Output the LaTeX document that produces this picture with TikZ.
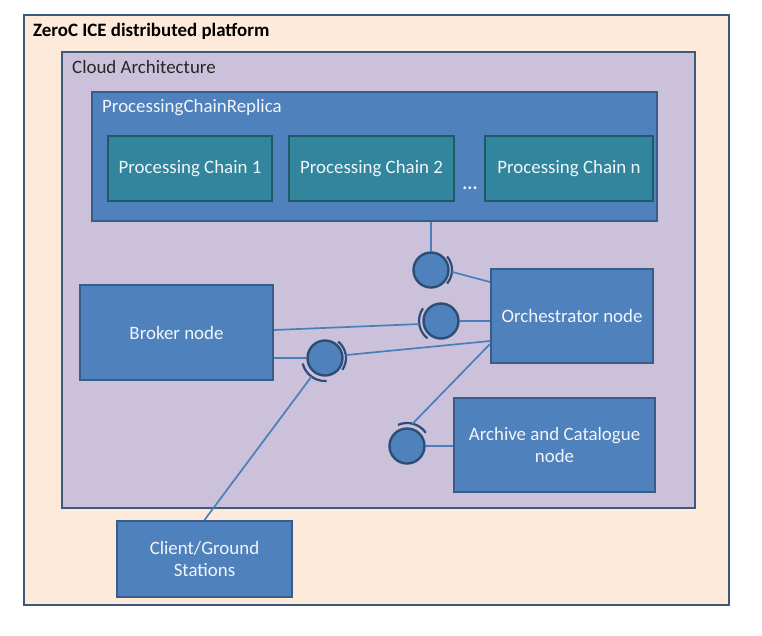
\documentclass[tikz,border=0pt]{standalone}
\usepackage{fontspec}
\setmainfont{Carlito}
\definecolor{peach}{HTML}{FDEADA}
\definecolor{lav}{HTML}{CCC1DA}
\definecolor{nblue}{HTML}{4F81BD}
\definecolor{nborder}{HTML}{385D8A}
\definecolor{outerb}{HTML}{3C5A7E}
\definecolor{teal}{HTML}{31859C}
\definecolor{tealb}{HTML}{215968}
\definecolor{lnc}{HTML}{4A7EBB}
\definecolor{sockc}{HTML}{2C4D75}
\definecolor{ltxt}{HTML}{F2F5FA}
\begin{document}
\begin{tikzpicture}[x=1pt,y=1pt,
  every node/.style={font=\fontsize{18.9}{22.6}\selectfont},
  container/.style={draw=outerb, line width=2.5pt, inner sep=0pt},
  nodebox/.style={draw=nborder, fill=nblue, line width=2pt, text=ltxt, align=center, inner sep=0pt},
  chainbox/.style={draw=tealb, fill=teal, line width=2pt, text=ltxt, align=center, inner sep=0pt},
  ball/.style={circle, draw=sockc, fill=nblue, line width=2.4pt, minimum size=35pt, inner sep=0pt},
  socket/.style={draw=sockc, line width=2.2pt},
  conn/.style={draw=lnc, line width=1.7pt},
  lbl/.style={anchor=base west, inner sep=0pt}
]
\useasboundingbox (0,0) rectangle (762,-635);
\fill[white] (0,0) rectangle (762,-635);
% containers
\node[container, fill=peach, minimum width=705pt, minimum height=590pt] (outer) at (376.5,-310) {};
\node[lbl, font=\fontsize{18.9}{22.6}\selectfont\bfseries] (title) at (33,-36) {ZeroC ICE distributed platform};
\node[container, fill=lav, line width=2pt, minimum width=633pt, minimum height=456pt] (cloud) at (378.5,-280) {};
\node[lbl, text=black!85] (cloudlbl) at (72,-73) {Cloud Architecture};
\node[nodebox, minimum width=565pt, minimum height=129pt] (pcr) at (374.5,-156.5) {};
\node[lbl, text=ltxt] (pcrlbl) at (102,-112) {ProcessingChainReplica};
% chains
\node[chainbox, minimum width=164pt, minimum height=65pt] (pc1) at (190,-168.5) {Processing Chain 1};
\node[chainbox, minimum width=165pt, minimum height=65pt] (pc2) at (371.5,-168.5) {Processing Chain 2};
\node[chainbox, minimum width=168pt, minimum height=65pt] (pcn) at (569,-168.5) {Processing Chain n};
\node[anchor=base, text=ltxt, inner sep=0pt, font=\fontsize{18.9}{22.6}\selectfont\bfseries] (dots) at (470,-189) {...};
% balls
\node[ball] (b1) at (431,-270) {};
\node[ball] (b2) at (441,-321) {};
\node[ball] (b3) at (325,-358) {};
\node[ball] (b4) at (407,-446) {};
% main boxes
\node[nodebox, minimum width=193pt, minimum height=95pt] (broker) at (176.5,-332.5) {Broker node};
\node[nodebox, minimum width=162pt, minimum height=94pt] (orch) at (572,-316) {Orchestrator node};
\node[nodebox, minimum width=201pt, minimum height=94pt] (arch) at (554.5,-445) {Archive and Catalogue\\node};
\node[nodebox, minimum width=175pt, minimum height=76pt] (client) at (204.5,-559) {Client/Ground\\Stations};
% sockets
\draw[socket] (b1.center) ++(-40:21pt) arc[start angle=-40, end angle=40, radius=21pt];
\path (b1.center) ++(-5:21pt) coordinate (s1);
\draw[socket] (b2.center) ++(145:22pt) arc[start angle=145, end angle=232, radius=22pt];
\path (b2.center) ++(188:22pt) coordinate (s2);
\draw[socket] (b3.center) ++(-34:21pt) arc[start angle=-34, end angle=51, radius=21pt];
\path (b3.center) ++(8:21pt) coordinate (s3a);
\draw[socket] (b3.center) ++(194:23pt) arc[start angle=194, end angle=274, radius=23pt];
\path (b3.center) ++(234:23pt) coordinate (s3b);
\draw[socket] (b4.center) ++(35:23pt) arc[start angle=35, end angle=113, radius=23pt];
\path (b4.center) ++(76:23pt) coordinate (s4);
% anchor points on boxes
\coordinate (o1) at ([yshift=-14pt]orch.north west);
\coordinate (o3) at ([yshift=-73pt]orch.north west);
\coordinate (o4) at ([yshift=-76pt]orch.north west);
\coordinate (br1) at ([yshift=-46pt]broker.north east);
% connectors
\draw[conn] (b1) -- (b1 |- pcr.south);
\draw[conn] (s1) -- (o1);
\draw[conn] (b2) -- (b2 -| orch.west);
\draw[conn] (br1) -- (s2);
\draw[conn] (b3) -- (b3 -| broker.east);
\draw[conn] (s3a) -- (o3);
\draw[conn] (s3b) -- (client.north);
\draw[conn] (b4) -- (b4 -| arch.west);
\draw[conn] (s4) -- (o4);
\end{tikzpicture}
\end{document}
